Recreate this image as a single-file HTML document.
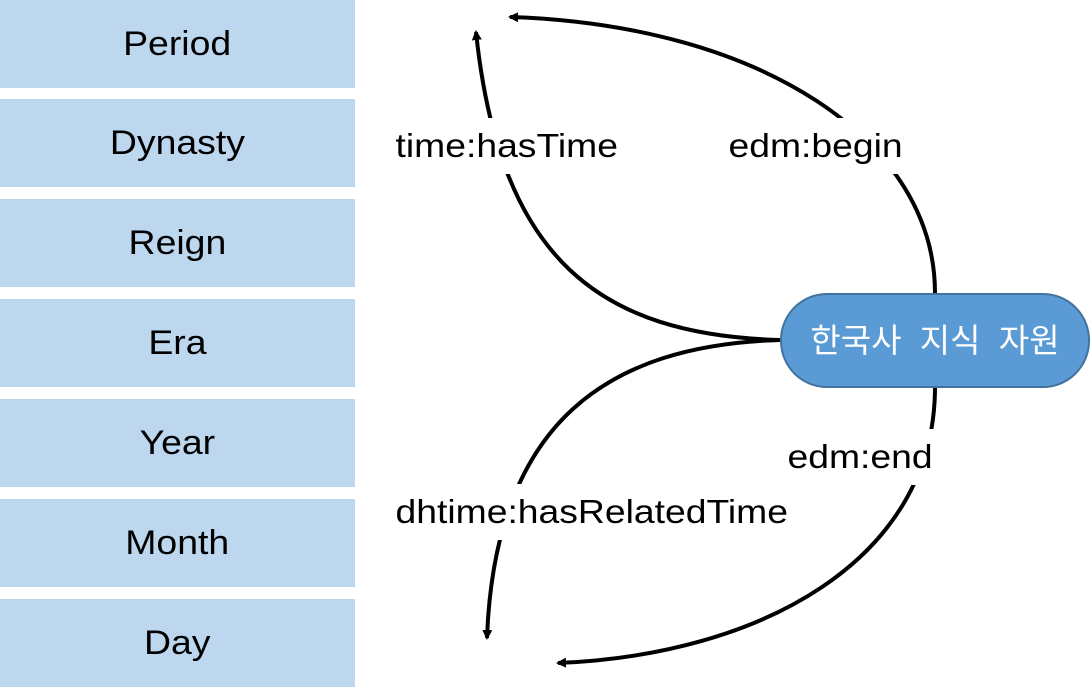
<!DOCTYPE html>
<html><head><meta charset="utf-8"><style>
body{margin:0;width:1091px;height:688px;background:#fff;overflow:hidden;position:relative;font-family:"Liberation Sans","Noto Sans CJK KR",sans-serif}
.b{position:absolute;left:0;width:355px;height:88px;background:#BDD7EE;display:flex;align-items:center;justify-content:center;font-size:34px;color:#000}
.b span{display:inline-block;transform:scaleX(1.1)}
.l{position:absolute;font-size:33px;color:#000;background:#fff;line-height:40px;padding:8px 4px;transform-origin:left center;transform:scaleX(1.13)}
</style></head><body>
<div class="b" style="top:0"><span>Period</span></div>
<div class="b" style="top:99px"><span>Dynasty</span></div>
<div class="b" style="top:199px"><span>Reign</span></div>
<div class="b" style="top:299px"><span>Era</span></div>
<div class="b" style="top:399px"><span>Year</span></div>
<div class="b" style="top:499px"><span>Month</span></div>
<div class="b" style="top:599px"><span>Day</span></div>
<svg width="1091" height="688" style="position:absolute;left:0;top:0">
<defs><marker id="a" markerWidth="10" markerHeight="10" refX="8" refY="5" orient="auto" markerUnits="userSpaceOnUse"><path d="M0,0 L10,5 L0,10 z" fill="#000"/></marker></defs>
<g fill="none" stroke="#000" stroke-width="4">
<path d="M780,340 C600,335 500,260 476,32" marker-end="url(#a)"/>
<path d="M935,293 C935,140 760,25 510,17" marker-end="url(#a)"/>
<path d="M780,340 C610,345 495,420 487,638" marker-end="url(#a)"/>
<path d="M935,387 C935,560 760,655 558,663" marker-end="url(#a)"/>
</g>
<rect x="781" y="294" width="308" height="93" rx="46" fill="#5B9BD5" stroke="#41719C" stroke-width="2"/>
<text x="935" y="352" fill="#fff" font-size="33" text-anchor="middle" font-family="Liberation Sans, Noto Sans CJK KR, sans-serif" xml:space="preserve">한국사  지식  자원</text>
</svg>
<div class="l" style="left:391px;top:118px">time:hasTime</div>
<div class="l" style="left:724px;top:118px">edm:begin</div>
<div class="l" style="left:783px;top:429px">edm:end</div>
<div class="l" style="left:391px;top:484px">dhtime:hasRelatedTime</div>
</body></html>
